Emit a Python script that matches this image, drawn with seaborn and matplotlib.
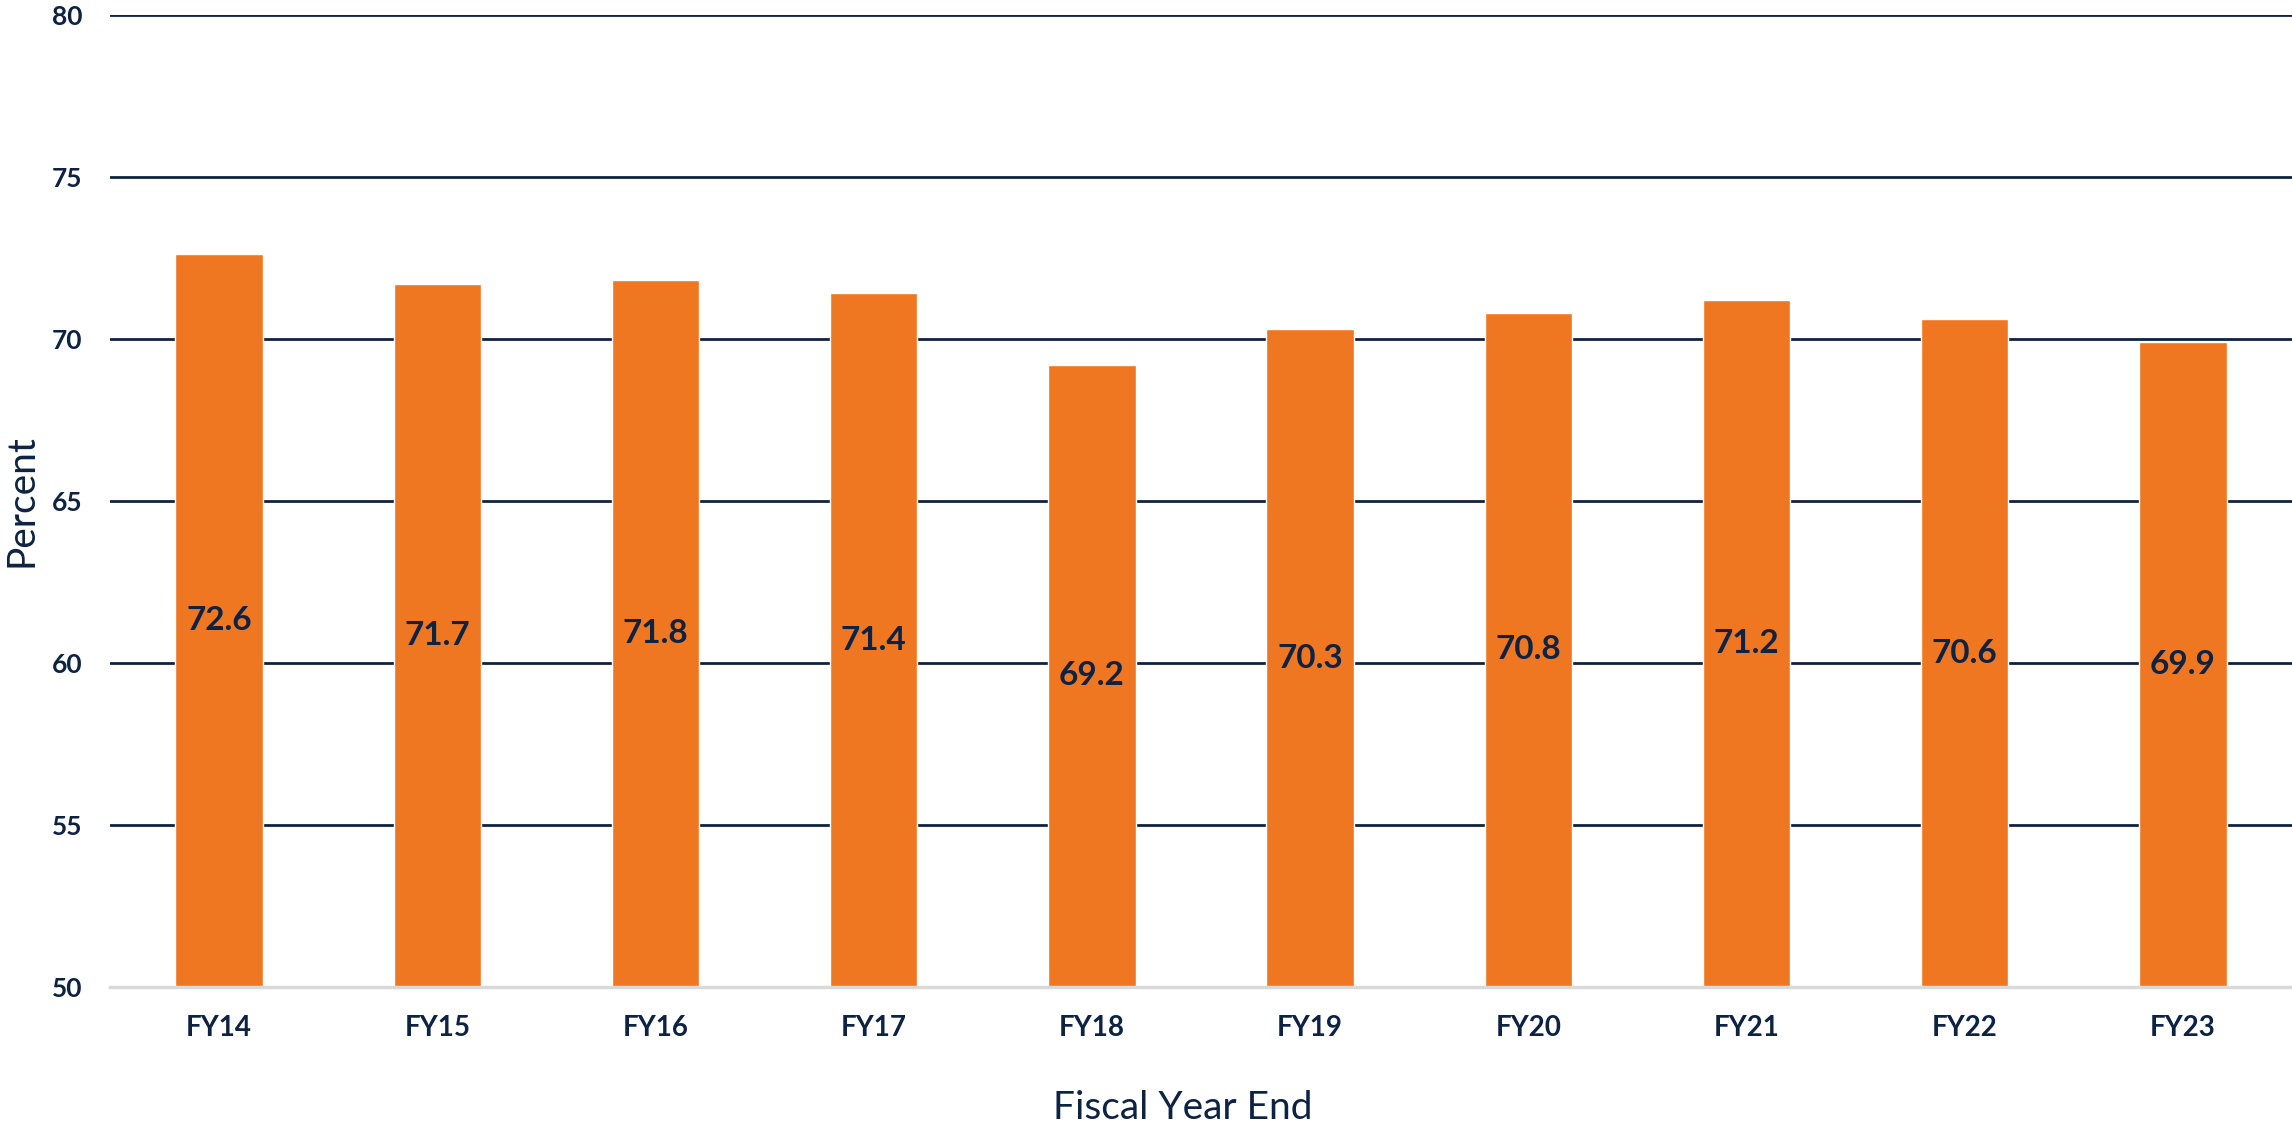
import numpy as np
import pandas as pd
import seaborn as sns
import matplotlib.pyplot as plt

# fiscal years and percent values
years = ["FY14", "FY15", "FY16", "FY17", "FY18", "FY19", "FY20", "FY21", "FY22", "FY23"]
percent = [72.6, 71.7, 71.8, 71.4, 69.2, 70.3, 70.8, 71.2, 70.6, 69.9]
y_ticks = [50, 55, 60, 65, 70, 75, 80]

ORANGE = "#F07722"
NAVY = "#0E2241"
GREY = "#D9D9D9"

sns.set_theme(style="white")
plt.rcParams['font.family'] = ['Lato', 'DejaVu Sans']

df = pd.DataFrame({"year": years, "percent": percent})

W, H = 2292, 1124
fig = plt.figure(figsize=(W / 100, H / 100), dpi=100)
ax = fig.add_axes([110 / W, 1 - 987 / H, 1 - 110 / W, (987 - 14.6) / H])

sns.barplot(data=df, x="year", y="percent", color=ORANGE, saturation=1,
            width=0.4, ax=ax, zorder=3)

ax.set_ylim(50, 80)
ax.set_xlim(-0.5, len(years) - 0.5)
ax.set_yticks(y_ticks)
ax.set_yticklabels([str(t) for t in y_ticks], fontsize=19, fontweight="bold", color=NAVY)
ax.set_xticklabels(years, fontsize=20, fontweight="bold", color=NAVY)

# navy gridlines above the baseline
for t in y_ticks[1:]:
    ax.axhline(t, color=NAVY, lw=2, zorder=1)

for s in ["top", "right", "left"]:
    ax.spines[s].set_visible(False)
ax.spines["bottom"].set_color(GREY)
ax.spines["bottom"].set_linewidth(2.5)
ax.spines["bottom"].set_zorder(4)

ax.tick_params(axis="y", length=0, pad=20)
ax.tick_params(axis="x", which="major", length=0, pad=20)
ax.set_xticks(np.arange(-0.5, len(years), 1), minor=True)
ax.tick_params(axis="x", which="minor", length=9, width=2, color=GREY, direction="out")

# values in the middle of each bar
for i, v in enumerate(percent):
    ax.text(i, 50 + (v - 50) / 2, f"{v:.1f}", ha="center", va="center",
            fontsize=24, fontweight="bold", color=NAVY, zorder=5)

ax.set_xlabel("")
ax.set_ylabel("")
fig.text(1183 / W, 1 - 1119 / H, "Fiscal Year End", ha="center", va="baseline",
         fontsize=28, color=NAVY)
fig.text(21 / W, 1 - 501 / H, "Percent", ha="center", va="center", rotation=90,
         fontsize=28, color=NAVY)

fig.savefig("out.png", dpi=100)
